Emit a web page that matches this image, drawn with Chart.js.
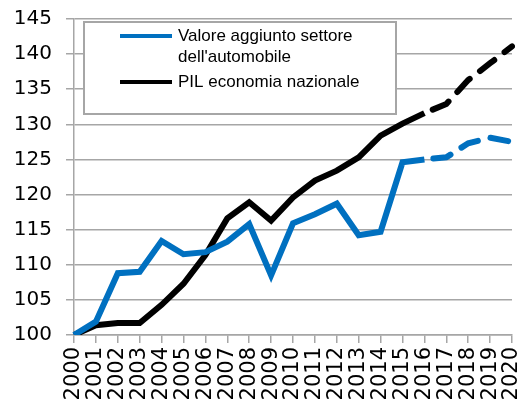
<!DOCTYPE html>
<html>
<head>
<meta charset="utf-8">
<script src="https://cdn.jsdelivr.net/npm/chart.js@4/dist/chart.umd.min.js"></script>
<style>
  html, body { margin: 0; padding: 0; background: #fff; overflow: hidden; }
  #wrap { position: relative; width: 529px; height: 409px; }
</style>
</head>
<body>
<div id="wrap"><canvas id="chart"></canvas></div>
<script>
const years = ['2000', '2001', '2002', '2003', '2004', '2005', '2006', '2007', '2008', '2009', '2010',
  '2011', '2012', '2013', '2014', '2015', '2016', '2017', '2018', '2019', '2020'];

// indice 2000 = 100
const valoreAggiunto = [100, 101.9, 108.8, 109.0, 113.4, 111.5, 111.8, 113.3, 115.8, 108.5, 115.9,
  117.2, 118.7, 114.2, 114.7, 124.6, 125.0, 125.3, 127.3, 128.1, 127.5];
const pil = [100, 101.4, 101.7, 101.7, 104.3, 107.3, 111.4, 116.6, 118.9, 116.3, 119.6,
  122.0, 123.4, 125.3, 128.4, 130.1, 131.6, 132.9, 136.3, 138.7, 141.1];

const seriesLabels = ["Valore aggiunto settore dell'automobile", 'PIL economia nazionale'];
const legendLines = [['Valore aggiunto settore', "dell'automobile"], ['PIL economia nazionale']];
const seriesColors = ['#0070C0', '#000000'];

// from this year on the values are forecasts (dashed)
const firstForecast = years.indexOf('2016');

const isForecast = (ctx) => ctx.p0DataIndex >= firstForecast;
const segmentStyle = {
  borderDash: (ctx) => isForecast(ctx) ? [18, 13] : undefined,
  borderDashOffset: (ctx) => isForecast(ctx) ? 22 : undefined,
  borderCapStyle: (ctx) => isForecast(ctx) ? 'round' : undefined
};

// legend drawn inside a white box over the grid, like the original
const boxLegend = {
  id: 'boxLegend',
  beforeDatasetsDraw(chart) {
    const { ctx, chartArea } = chart;
    const x = chartArea.left + 10;
    const y = chartArea.top + 3;
    const w = 312, h = 92;
    ctx.save();
    ctx.fillStyle = '#fff';
    ctx.fillRect(x, y, w, h);
    ctx.strokeStyle = '#a6a6a6';
    ctx.lineWidth = 2;
    ctx.strokeRect(x, y, w, h);

    ctx.font = '17px "Liberation Sans", Arial, sans-serif';
    ctx.textBaseline = 'middle';
    ctx.fillStyle = '#000';
    let rowY = y + 14;
    legendLines.forEach((lines, i) => {
      ctx.strokeStyle = seriesColors[i];
      ctx.lineWidth = 4;
      ctx.beginPath();
      ctx.moveTo(x + 36, rowY);
      ctx.lineTo(x + 88, rowY);
      ctx.stroke();
      lines.forEach((t, j) => {
        ctx.fillText(t, x + 94, rowY + j * 21);
      });
      rowY += lines.length * 21 + 4;
    });
    ctx.restore();
  }
};

new Chart(document.getElementById('chart'), {
  type: 'line',
  data: {
    labels: years,
    datasets: [{
      label: seriesLabels[0],
      data: valoreAggiunto,
      borderColor: seriesColors[0],
      borderWidth: 6,
      pointRadius: 0,
      tension: 0,
      segment: segmentStyle
    }, {
      label: seriesLabels[1],
      data: pil,
      borderColor: seriesColors[1],
      borderWidth: 6,
      pointRadius: 0,
      tension: 0,
      segment: segmentStyle
    }]
  },
  options: {
    responsive: true,
    maintainAspectRatio: false,
    animation: false,
    layout: { padding: { left: 0, right: 17, top: 19, bottom: 0 } },
    plugins: {
      legend: { display: false },
      tooltip: { enabled: false }
    },
    scales: {
      x: {
        afterFit: (scale) => {
          scale.height = 74;
          scale.paddingLeft = 0;
          scale.paddingRight = 0;
        },
        grid: { display: true, drawOnChartArea: false, color: '#a6a6a6', lineWidth: 1.5, tickLength: 8 },
        border: { color: '#a6a6a6', width: 1.5 },
        ticks: {
          autoSkip: false,
          minRotation: 90,
          maxRotation: 90,
          padding: 4,
          color: '#000',
          font: { family: '"DejaVu Sans", sans-serif', size: 21 }
        }
      },
      y: {
        min: 100,
        max: 145,
        afterFit: (scale) => {
          scale.width = 74;
          scale.paddingTop = 0;
          scale.paddingBottom = 0;
        },
        grid: { color: '#a6a6a6', lineWidth: 1.5, tickLength: 8 },
        border: { color: '#a6a6a6', width: 1.5 },
        ticks: {
          stepSize: 5,
          padding: 14,
          color: '#000',
          font: { family: '"DejaVu Sans", sans-serif', size: 20 }
        }
      }
    }
  },
  plugins: [boxLegend]
});
</script>
</body>
</html>
